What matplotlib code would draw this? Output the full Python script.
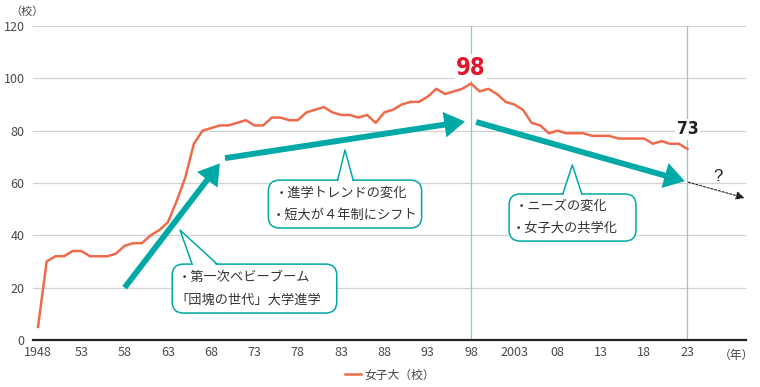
import matplotlib
matplotlib.use("Agg")
import matplotlib.pyplot as plt
from matplotlib.patches import FancyBboxPatch, FancyArrowPatch, Polygon
from matplotlib.lines import Line2D
from matplotlib import font_manager

plt.rcParams['font.family'] = ['Noto Sans CJK JP', 'DejaVu Sans']

# ─── data ────────────────────────────────────────────────────────────────────
years = list(range(1948, 2024))
counts = [5, 30, 32, 32, 34, 34, 32, 32, 32, 33,
          36, 37, 37, 40, 42, 45, 53, 62, 75, 80,
          81, 82, 82, 83, 84, 82, 82, 85, 85, 84,
          84, 87, 88, 89, 87, 86, 86, 85, 86, 83,
          87, 88, 90, 91, 91, 93, 96, 94, 95, 96,
          98, 95, 96, 94, 91, 90, 88, 83, 82, 79,
          80, 79, 79, 79, 78, 78, 78, 77, 77, 77,
          77, 75, 76, 75, 75, 73]
tick_years = [1948, 1953, 1958, 1963, 1968, 1973, 1978, 1983, 1988, 1993,
              1998, 2003, 2008, 2013, 2018, 2023]
tick_labels = ["1948", "53", "58", "63", "68", "73", "78", "83", "88", "93",
               "98", "2003", "08", "13", "18", "23"]
peak_year, peak_val = 1998, 98
last_year, last_val = 2023, 73

notes = [
    ["・第一次ベビーブーム", "「団塊の世代」大学進学"],
    ["・進学トレンドの変化", "・短大が４年制にシフト"],
    ["・ニーズの変化", "・女子大の共学化"],
]

LINE = "#ee6a4a"
TEAL = "#00a9a6"
TEAL_LT = "#7fd0d0"
GRID = "#d2d2d2"
TXT = "#333333"

# condensed bold font for the big numbers, if one is around
names = {f.name for f in font_manager.fontManager.ttflist}
num_fam = ["Liberation Sans Narrow"] if "Liberation Sans Narrow" in names else []
num_fam += ["DejaVu Sans"]

fig = plt.figure(figsize=(7.6, 3.87), dpi=100)
ax = fig.add_axes([33 / 760, 1 - 340 / 387, 713 / 760, 314 / 387])
ax.set_xlim(1947.42, 2029.76)
ax.set_ylim(0, 120)

# grid + axis
ax.set_yticks(range(0, 121, 20))
ax.yaxis.grid(True, color=GRID, lw=0.9)
ax.set_axisbelow(True)
for s in ["left", "right", "top"]:
    ax.spines[s].set_visible(False)
ax.spines["bottom"].set_color("#222222")
ax.spines["bottom"].set_linewidth(1.6)
ax.spines["bottom"].set_zorder(5)
ax.tick_params(length=0, labelsize=9, labelcolor="#4a4a4a")
ax.tick_params(axis="y", pad=6)
ax.tick_params(axis="x", pad=4)
ax.set_xticks(tick_years)
ax.set_xticklabels(tick_labels)

# vertical markers
for yr in (peak_year, last_year):
    ax.axvline(yr, color=TEAL_LT, lw=0.9, zorder=1)

# main line
ax.plot(years, counts, color=LINE, lw=1.8, zorder=3, label="女子大（校）")

# labels
ax.text(peak_year, 101.4, str(peak_val), color="#e0162b", fontsize=17,
        fontweight="bold", fontstretch="condensed", ha="center",
        va="baseline", zorder=6, family=num_fam,
        bbox=dict(fc="white", ec="none", pad=1))
ax.text(last_year, 78.6, str(last_val), color="#222222", fontsize=12.5,
        fontweight="bold", fontstretch="condensed", ha="center",
        va="baseline", zorder=6, family=num_fam,
        bbox=dict(fc="white", ec="none", pad=1))

# trend arrows
def arrow(p0, p1):
    a = FancyArrowPatch(p0, p1, arrowstyle="-|>,head_length=0.8,head_width=0.5",
                        mutation_scale=11, lw=4.2, color=TEAL,
                        shrinkA=0, shrinkB=0, zorder=4, joinstyle="miter",
                        capstyle="butt")
    ax.add_patch(a)

arrow((1958, 20), (1969.0, 67.5))
arrow((1969.6, 69.5), (1997.3, 83.5))
arrow((1998.6, 83.3), (2022.7, 60.7))

dash = FancyArrowPatch((2023.1, 60.3), (2029.6, 54.3),
                       arrowstyle="-|>,head_length=0.5,head_width=0.25",
                       mutation_scale=10, lw=0.8, ls=(0, (2, 1.5)),
                       color="#222222", shrinkA=0, shrinkB=0, zorder=4)
ax.add_patch(dash)
ax.text(2026.5, 59.5, "?", fontsize=12, color="#222222", ha="center",
        va="bottom", family=["Liberation Sans", "DejaVu Sans"])

# callout boxes
px_x = 1 / 8.66
px_y = 1 / 2.617
aspect = px_y / px_x

def callout(x0, x1, y0, y1, tip, b0, b1, lines):
    box = FancyBboxPatch((x0, y0), x1 - x0, y1 - y0,
                         boxstyle="round,pad=0,rounding_size=%f" % (11 * px_x),
                         mutation_aspect=aspect, fc="white", ec=TEAL,
                         lw=1.1, zorder=6)
    ax.add_patch(box)
    tri = Polygon([(b0, y1 - 0.8), tip, (b1, y1 - 0.8)], closed=True,
                  fc="white", ec="none", zorder=7)
    ax.add_patch(tri)
    ax.add_line(Line2D([b0, tip[0], b1], [y1 - 0.05, tip[1], y1 - 0.05],
                       color=TEAL, lw=1.1, zorder=8))
    ym = (y0 + y1) / 2
    dy = (y1 - y0) * 0.23
    ax.text(x0 + 6 * px_x, ym + dy, lines[0], fontsize=9.5, color=TXT,
            va="center", ha="left", zorder=9)
    ax.text(x0 + 3 * px_x, ym - dy, lines[1], fontsize=9.5, color=TXT,
            va="center", ha="left", zorder=9)

callout(1963.5, 1982.5, 10.3, 29.0, (1964.4, 42), 1965.8, 1968.7, notes[0])
callout(1974.6, 1992.3, 42.8, 61.1, (1983.45, 72.6), 1982.6, 1984.4, notes[1])
callout(2002.4, 2017.05, 37.8, 55.8, (2009.7, 66.9), 2008.6, 2010.8, notes[2])

# unit labels
fig.text(10 / 760, 1 - 12 / 387, "（校）", fontsize=8, color="#444444",
         ha="left", va="center")
ax.text(2028.6, -3.2, "（年）", fontsize=8.5, color="#444444",
        ha="center", va="top")

fig.legend(loc="center", bbox_to_anchor=(390 / 760, 1 - 375 / 387),
           frameon=False, fontsize=8.5, handlelength=1.3, handletextpad=0.3,
           labelcolor="#444444")

fig.savefig("out.png", dpi=100)
